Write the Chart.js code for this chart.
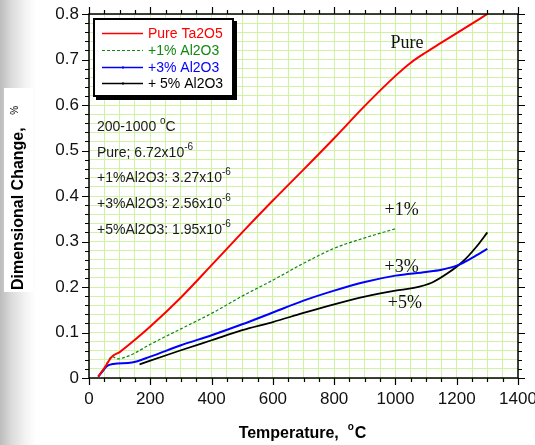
<!DOCTYPE html>
<html>
<head>
<meta charset="utf-8">
<script src="https://cdn.jsdelivr.net/npm/chart.js@4"></script>
<style>
  html, body { margin: 0; padding: 0; }
  body {
    width: 535px; height: 445px; overflow: hidden;
    background: linear-gradient(to right, #bcbcbc 0px, #dcdcdc 12px, #f4f4f4 26px, #ffffff 36px);
  }
  #wrap { position: relative; width: 535px; height: 445px; }
  canvas { display: block; }
</style>
</head>
<body>
<div id="wrap"><canvas id="dilChart" width="535" height="445"></canvas></div>
<script>
// Temperature (C) and dimensional change (%)
const tempPure = [30, 50, 75, 100, 150, 200, 300, 400, 500, 600, 700, 800, 900, 1000, 1050, 1100, 1150, 1200, 1250, 1300];
const dcPure   = [0.003, 0.022, 0.047, 0.057, 0.084, 0.113, 0.177, 0.248, 0.32, 0.39, 0.458, 0.527, 0.598, 0.664, 0.693, 0.716, 0.737, 0.758, 0.779, 0.8];

const temp1 = [30, 50, 75, 95, 120, 150, 200, 300, 400, 500, 600, 700, 800, 900, 1000];
const dc1   = [0.003, 0.022, 0.047, 0.042, 0.046, 0.055, 0.074, 0.108, 0.142, 0.18, 0.215, 0.252, 0.285, 0.308, 0.328];

const temp3 = [30, 45, 58, 79, 140, 200, 300, 400, 500, 600, 700, 800, 900, 1000, 1100, 1150, 1200, 1250, 1300];
const dc3   = [0.003, 0.015, 0.026, 0.031, 0.034, 0.047, 0.072, 0.094, 0.118, 0.144, 0.17, 0.192, 0.211, 0.225, 0.233, 0.238, 0.247, 0.264, 0.284];

const temp5 = [165, 200, 300, 400, 500, 600, 700, 800, 900, 1000, 1060, 1120, 1170, 1220, 1265, 1300];
const dc5   = [0.03, 0.038, 0.061, 0.083, 0.105, 0.123, 0.143, 0.162, 0.179, 0.192, 0.198, 0.21, 0.23, 0.256, 0.289, 0.32];

const seriesNames = ['Pure Ta2O5', '+1% Al2O3', '+3% Al2O3', '+ 5% Al2O3'];
const seriesColors = ['#ff0000', '#118811', '#0000ff', '#000000'];

const xTickLabels = [0, 200, 400, 600, 800, 1000, 1200, 1400];
const yTickLabels = [0, 0.1, 0.2, 0.3, 0.4, 0.5, 0.6, 0.7, 0.8];

// curve labels, in data coordinates
const curveLabels = [
    { text: 'Pure', x: 1038, y: 0.725 },
    { text: '+1%', x: 1020, y: 0.358 },
    { text: '+3%', x: 1020, y: 0.233 },
    { text: '+5%', x: 1031, y: 0.153 }
];

const coefLines = [
    ['200-1000 ', 'o', 'C'],
    ['Pure; 6.72x10', '-6', ''],
    ['+1%Al2O3: 3.27x10', '-6', ''],
    ['+3%Al2O3: 2.56x10', '-6', ''],
    ['+5%Al2O3: 1.95x10', '-6', '']
];

function toPoints(xs, ys) {
    return xs.map((x, i) => ({ x: x, y: ys[i] }));
}

const GRID = '#cdf3a3';
const FONT = '"Liberation Sans", Arial, sans-serif';

const framePlugin = {
    id: 'framePlugin',
    beforeDraw(chart) {
        const ctx = chart.ctx;
        ctx.save();
        ctx.fillStyle = '#ffffff';
        ctx.fillRect(4, 88, 29, 204);
        ctx.restore();
    },
    afterDraw(chart) {
        const ctx = chart.ctx;
        const a = chart.chartArea;
        const xs = chart.scales.x, ys = chart.scales.y;
        ctx.save();

        // frame
        ctx.strokeStyle = '#000';
        ctx.lineWidth = 1.5;
        ctx.strokeRect(a.left, a.top, a.right - a.left, a.bottom - a.top);

        // ticks, outside on all four sides
        ctx.lineWidth = 1.2;
        ctx.beginPath();
        for (let v = 0; v <= 1400; v += 50) {
            const px = Math.round(xs.getPixelForValue(v)) + 0.5;
            const len = v % 200 === 0 ? 7 : 4;
            ctx.moveTo(px, a.bottom); ctx.lineTo(px, a.bottom + len);
            ctx.moveTo(px, a.top); ctx.lineTo(px, a.top - len);
        }
        for (let i = 0; i <= 40; i++) {
            const py = Math.round(ys.getPixelForValue(i * 0.02)) + 0.5;
            const len = i % 5 === 0 ? 7 : 4;
            ctx.moveTo(a.left, py); ctx.lineTo(a.left - len, py);
            ctx.moveTo(a.right, py); ctx.lineTo(a.right + len, py);
        }
        ctx.stroke();

        // legend box with shadow
        ctx.fillStyle = '#000';
        ctx.fillRect(96, 21, 141, 79);
        ctx.fillStyle = '#fff';
        ctx.fillRect(93, 18, 141, 79);
        ctx.strokeStyle = '#000';
        ctx.lineWidth = 2;
        ctx.strokeRect(94, 19, 139, 77);
        const rows = [33, 50, 67, 83];
        ctx.font = '14px ' + FONT;
        ctx.textBaseline = 'middle';
        ctx.textAlign = 'left';
        rows.forEach((ry, i) => {
            ctx.strokeStyle = seriesColors[i];
            ctx.lineWidth = i === 1 ? 1 : 1.3;
            ctx.setLineDash(i === 1 ? [3, 2] : []);
            ctx.beginPath();
            ctx.moveTo(102, ry + 0.5); ctx.lineTo(143, ry + 0.5);
            ctx.stroke();
            ctx.setLineDash([]);
            if (i >= 2) {
                ctx.fillStyle = seriesColors[i];
                ctx.fillRect(122, ry - 0.5, 2, 2);
            }
            ctx.fillStyle = seriesColors[i];
            ctx.fillText(seriesNames[i], 148, ry + 1);
        });

        // coefficient notes
        ctx.textBaseline = 'alphabetic';
        ctx.fillStyle = '#1a1a1a';
        coefLines.forEach((ln, i) => {
            const by = 131 + i * 25.7;
            let x = 97;
            ctx.font = '14px ' + FONT;
            ctx.fillText(ln[0], x, by);
            x += ctx.measureText(ln[0]).width;
            ctx.font = '10px ' + FONT;
            ctx.fillText(ln[1], x, by - 7);
            x += ctx.measureText(ln[1]).width;
            ctx.font = '14px ' + FONT;
            if (ln[2]) ctx.fillText(ln[2], x, by);
        });

        // curve labels
        ctx.font = '18px "Liberation Serif", "Times New Roman", serif';
        ctx.textAlign = 'center';
        ctx.fillStyle = '#111';
        curveLabels.forEach(l => {
            ctx.fillText(l.text, xs.getPixelForValue(l.x), ys.getPixelForValue(l.y));
        });

        // x axis title
        ctx.textAlign = 'left';
        ctx.fillStyle = '#000';
        const t1 = 'Temperature,  ', t2 = 'o', t3 = 'C';
        ctx.font = 'bold 16px ' + FONT;
        const w1 = ctx.measureText(t1).width, w3 = ctx.measureText(t3).width;
        ctx.font = 'bold 10px ' + FONT;
        const w2 = ctx.measureText(t2).width;
        let tx = 302 - (w1 + w2 + w3) / 2;
        ctx.font = 'bold 16px ' + FONT;
        ctx.fillText(t1, tx, 438);
        ctx.font = 'bold 10px ' + FONT;
        ctx.fillText(t2, tx + w1, 430);
        ctx.font = 'bold 16px ' + FONT;
        ctx.fillText(t3, tx + w1 + w2 + 1, 438);

        // y axis title
        ctx.translate(23, 290);
        ctx.rotate(-Math.PI / 2);
        ctx.font = 'bold 16px ' + FONT;
        ctx.fillText('Dimensional Change,', 0, 0);
        const wy = ctx.measureText('Dimensional Change, ').width;
        ctx.font = '10px ' + FONT;
        ctx.fillText('%', wy + 8, -5);

        ctx.restore();
    }
};

const ctxDil = document.getElementById('dilChart').getContext('2d');
const dilChart = new Chart(ctxDil, {
    type: 'scatter',
    data: {
        datasets: [
            { label: seriesNames[0], data: toPoints(tempPure, dcPure), borderColor: seriesColors[0], borderWidth: 2 },
            { label: seriesNames[1], data: toPoints(temp1, dc1), borderColor: seriesColors[1], borderWidth: 1.2, borderDash: [3, 2] },
            { label: seriesNames[2], data: toPoints(temp3, dc3), borderColor: seriesColors[2], borderWidth: 2 },
            { label: seriesNames[3], data: toPoints(temp5, dc5), borderColor: seriesColors[3], borderWidth: 1.8 }
        ]
    },
    options: {
        responsive: false,
        animation: false,
        devicePixelRatio: 1,
        showLine: true,
        elements: {
            point: { radius: 0, hoverRadius: 0 },
            line: { cubicInterpolationMode: 'monotone', fill: false }
        },
        layout: { padding: { top: 14, right: 17, left: 0, bottom: 0 } },
        plugins: {
            legend: { display: false },
            tooltip: { enabled: false }
        },
        scales: {
            x: {
                type: 'linear',
                min: 0, max: 1400,
                afterFit(scale) {
                    scale.height = 67;
                    scale.paddingLeft = 0;
                    scale.paddingRight = 0;
                },
                afterBuildTicks(scale) {
                    const t = [];
                    for (let v = 0; v <= 1400; v += 50) t.push({ value: v });
                    scale.ticks = t;
                },
                ticks: {
                    autoSkip: false, maxRotation: 0, padding: 11,
                    color: '#111',
                    font: { family: FONT, size: 17 },
                    callback: v => xTickLabels.includes(v) ? String(v) : ''
                },
                grid: { color: GRID, lineWidth: 1, drawTicks: false },
                border: { display: false }
            },
            y: {
                min: 0, max: 0.8,
                afterFit(scale) {
                    scale.width = 89;
                    scale.paddingTop = 0;
                    scale.paddingBottom = 0;
                },
                afterBuildTicks(scale) {
                    const t = [];
                    for (let i = 0; i <= 40; i++) t.push({ value: i * 0.02 });
                    scale.ticks = t;
                },
                ticks: {
                    autoSkip: false, padding: 10,
                    color: '#111',
                    font: { family: FONT, size: 17 },
                    callback: v => {
                        const r = Math.round(v * 100) / 100;
                        return yTickLabels.includes(r) ? String(r) : '';
                    }
                },
                grid: { color: GRID, lineWidth: 1, drawTicks: false },
                border: { display: false }
            }
        }
    },
    plugins: [framePlugin]
});
</script>
</body>
</html>
